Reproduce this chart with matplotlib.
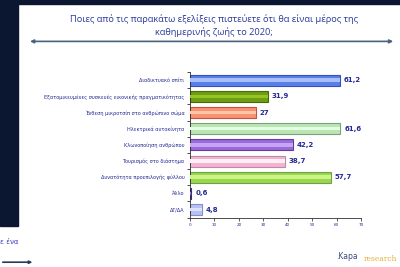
import matplotlib.pyplot as plt
from matplotlib.patches import Rectangle, FancyArrowPatch

# data
categories = ['Διαδικτυακό σπίτι',
              'Εξατομικευμένες συσκευές εικονικής πραγματικότητας',
              'Ένθεση μικροτσίπ στο ανθρώπινο σώμα',
              'Ηλεκτρικά αυτοκίνητα',
              'Κλωνοποίηση ανθρώπου',
              'Τουρισμός στο διάστημα',
              'Δυνατότητα προεπιλογής φύλλου',
              'Άλλο',
              'ΔΓ/ΔΑ']
values = [61.2, 31.9, 27, 61.6, 42.2, 38.7, 57.7, 0.6, 4.8]
value_labels = ['61,2', '31,9', '27', '61,6', '42,2', '38,7', '57,7', '0,6', '4,8']
xticks = [0, 10, 20, 30, 40, 50, 60, 70]

face = ['#5b7fe8', '#6e9c12', '#f79272', '#b9e6b2', '#9a6ad8', '#f7b2d2', '#9ad84a', '#5a44a8', '#b8c2f0']
edge = ['#3252c0', '#486a08', '#cc5040', '#7f9f80', '#5e3ea0', '#b88fa2', '#6f9f52', '#3a2a80', '#8090d0']
light = ['#a8c0fa', '#94c424', '#ffc6a8', '#e4ffe2', '#c6a6f4', '#fff0f8', '#cdf488', '#8a78d0', '#dde2fc']

navy = '#0b1630'
txt = '#232a94'

fig = plt.figure(figsize=(4, 2.67), dpi=100)
fig.patch.set_facecolor('white')

# dark frame pieces
fig.patches.append(Rectangle((0, 0.985), 1, 0.015, transform=fig.transFigure, color=navy, zorder=0))
fig.patches.append(Rectangle((0, 0.155), 0.045, 0.85, transform=fig.transFigure, color=navy, zorder=0))

fig.text(0.535, 0.928, 'Ποιες από τις παρακάτω εξελίξεις πιστεύετε ότι θα είναι μέρος της',
         ha='center', va='center', fontsize=6.7, color='#2a3a9a', family='Open Sans')
fig.text(0.535, 0.878, 'καθημερινής ζωής το 2020;',
         ha='center', va='center', fontsize=6.7, color='#2a3a9a', family='Open Sans')
fig.patches.append(FancyArrowPatch((0.068, 0.845), (0.99, 0.845), transform=fig.transFigure,
                                   arrowstyle='<|-|>', mutation_scale=5, color='#4a6282', lw=1.2))

ax = fig.add_axes([0.475, 0.185, 0.4275, 0.545])
y = list(range(len(categories)))
ax.barh(y, values, height=0.68, color=face, edgecolor=edge, linewidth=0.8, zorder=2)
ax.barh(y, values, height=0.22, color=light, linewidth=0, zorder=3)
for yi, v, lab in zip(y, values, value_labels):
    ax.text(v + 1.5, yi, lab, va='center', ha='left', fontsize=5, fontweight='bold', color=txt)

ax.set_ylim(len(categories) - 0.5, -0.5)
ax.set_xlim(0, 70)
ax.set_yticks(y)
ax.set_yticklabels(categories, fontsize=3.6, color=txt)
ax.set_xticks(xticks)
ax.set_xticklabels([str(t) for t in xticks], fontsize=3, color=txt)
ax.tick_params(axis='y', length=0, pad=4)
ax.tick_params(axis='x', length=2, width=0.6, color='#404040', pad=2)
for s in ['top', 'right']:
    ax.spines[s].set_visible(False)
ax.spines['left'].set_color('#303030')
ax.spines['bottom'].set_color('#303030')
ax.spines['left'].set_linewidth(0.6)
ax.spines['bottom'].set_linewidth(0.6)
# minor ticks between categories on the y axis
ax.set_yticks([i - 0.5 for i in range(len(categories) + 1)], minor=True)
ax.tick_params(axis='y', which='minor', length=2, width=0.6, color='#303030')

# bottom left remnants
fig.text(0.0, 0.093, 'ε ένα', ha='left', va='center', fontsize=5, color='#3a3ac0')
fig.patches.append(FancyArrowPatch((0.0, 0.018), (0.088, 0.018), transform=fig.transFigure,
                                   arrowstyle='-|>', mutation_scale=4, color='#2a3a5a', lw=1.2))

# logo
fig.text(0.895, 0.04, '.Kapa', ha='right', va='center', fontsize=5.5, color='#3a4a7a')
fig.text(0.91, 0.03, 'research', ha='left', va='center', fontsize=5.5, color='#e0b040',
         family='DejaVu Serif')

fig.savefig('out.png', dpi=100)
